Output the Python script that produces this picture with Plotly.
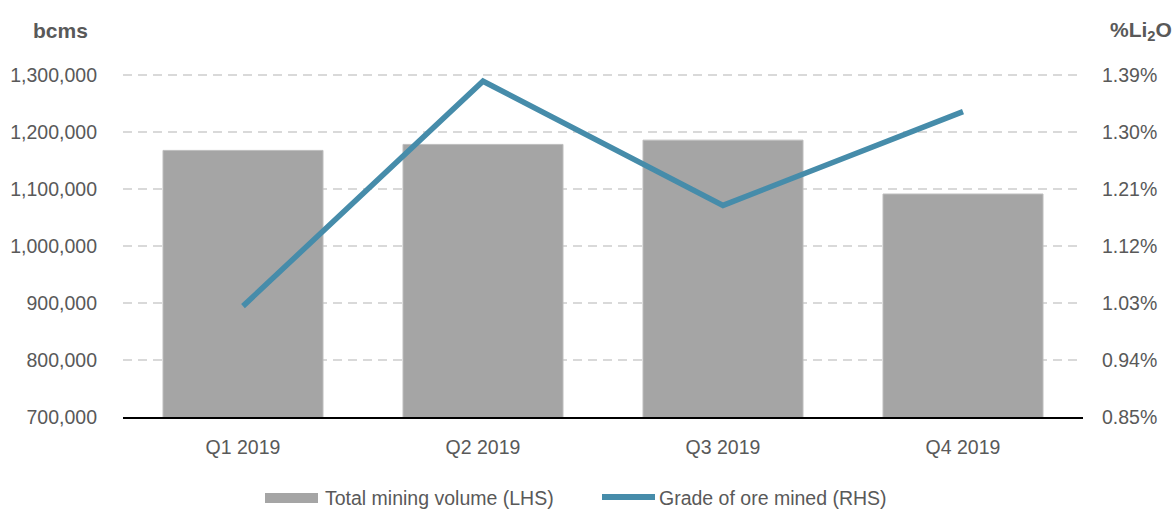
import plotly.graph_objects as go

quarters = ["Q1 2019", "Q2 2019", "Q3 2019", "Q4 2019"]
mining_volume_bcm = [1167500, 1178000, 1185500, 1091000]
grade_li2o_pct = [1.025, 1.380, 1.184, 1.332]

left_ticks = [700000, 800000, 900000, 1000000, 1100000, 1200000, 1300000]
right_ticks = [0.85, 0.94, 1.03, 1.12, 1.21, 1.30, 1.39]
right_tick_labels = ["0.85%", "0.94%", "1.03%", "1.12%", "1.21%", "1.30%", "1.39%"]

FONT = "Liberation Sans, Arial, sans-serif"
TXT = "#595959"
BAR = "#a5a5a5"
LINE = "#468caa"
FS = 19.5

fig = go.Figure()
fig.add_trace(go.Bar(
    x=quarters, y=mining_volume_bcm, name="Total mining volume (LHS)",
    marker=dict(color=BAR, line=dict(color="#bdbdbd", width=1)),
    showlegend=False, yaxis="y",
))
fig.add_trace(go.Scatter(
    x=quarters, y=grade_li2o_pct, name="Grade of ore mined (RHS)",
    mode="lines", line=dict(color=LINE, width=5.5),
    showlegend=False, yaxis="y2",
))

W, H = 1176, 509
L, R, B = 123, 93, 92
# small headroom above top tick so its gridline is drawn
y_lo, y_hi = 700000, 1305000
px_per_unit = 342 / 600000
T = 75 - (y_hi - 1300000) * px_per_unit
r_lo = 0.85
r_hi = r_lo + (y_hi - y_lo) / 100000 * 0.09
pw, ph = W - L - R, H - T - B

def px(xp):
    return (xp - L) / pw

def py(yp):
    return (H - B - yp) / ph

fig.update_layout(
    width=W, height=H,
    margin=dict(l=L, r=R, t=T, b=B, autoexpand=False),
    paper_bgcolor="white", plot_bgcolor="white",
    font=dict(family=FONT, size=FS, color=TXT),
    bargap=1/3,
    xaxis=dict(
        showline=True, linecolor="black", linewidth=2,
        showgrid=False, ticks="", ticklabelstandoff=12,
        tickfont=dict(size=FS, color=TXT),
    ),
    yaxis=dict(
        range=[y_lo, y_hi], tickvals=left_ticks, tickformat=",d",
        showgrid=True, gridcolor="#d9d9d9", gridwidth=1.5, griddash="9px,6px",
        zeroline=False, showline=False, ticks="", ticklabelstandoff=25,
        tickfont=dict(size=FS, color=TXT),
    ),
    yaxis2=dict(
        range=[r_lo, r_hi], tickvals=right_ticks, ticktext=right_tick_labels,
        overlaying="y", side="right", showgrid=False, zeroline=False,
        showline=False, ticks="", ticklabelstandoff=18,
        tickfont=dict(size=FS, color=TXT),
    ),
    showlegend=False,
)

# axis unit labels
fig.add_annotation(text="<b>bcms</b>", x=px(61), y=py(31), xref="paper", yref="paper",
                   xanchor="center", yanchor="middle",
                   showarrow=False, font=dict(size=21, color=TXT, family=FONT))
fig.add_annotation(text="<b>%Li<sub>2</sub>O</b>", x=px(1141), y=py(31), xref="paper", yref="paper",
                   xanchor="center", yanchor="middle",
                   showarrow=False, font=dict(size=21, color=TXT, family=FONT))

# legend
fig.add_shape(type="rect", xref="paper", yref="paper",
              x0=px(265), x1=px(318), y0=py(503), y1=py(493),
              fillcolor=BAR, line=dict(width=0))
fig.add_annotation(text="Total mining volume (LHS)", x=px(323), y=py(498), xref="paper", yref="paper",
                   xanchor="left", yanchor="middle", showarrow=False,
                   font=dict(size=FS, color=TXT, family=FONT))
fig.add_shape(type="line", xref="paper", yref="paper",
              x0=px(602), x1=px(655), y0=py(497), y1=py(497),
              line=dict(color=LINE, width=6))
fig.add_annotation(text="Grade of ore mined (RHS)", x=px(657), y=py(498), xref="paper", yref="paper",
                   xanchor="left", yanchor="middle", showarrow=False,
                   font=dict(size=FS, color=TXT, family=FONT))

fig.write_html("out.html", config={"displayModeBar": False},
               post_script="document.body.style.margin='0px';")
